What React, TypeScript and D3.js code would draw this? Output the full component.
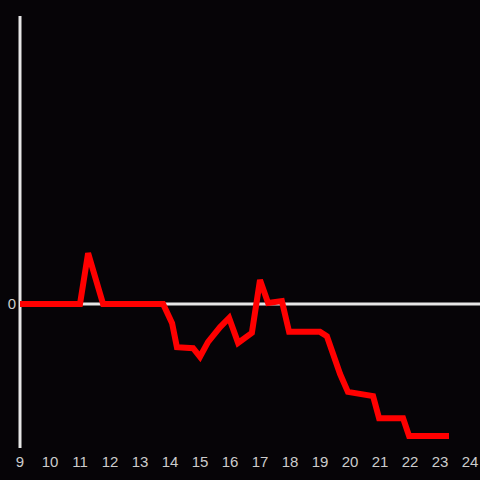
import React from "react";
import * as d3 from "d3";

const hours = [9.0, 11.0, 11.27, 11.77, 13.77, 14.07, 14.23, 14.77, 15.0, 15.27, 15.67, 15.97, 16.27, 16.73, 17.0, 17.27, 17.73, 17.97, 19.0, 19.23, 19.67, 19.93, 20.77, 20.97, 21.77, 21.97, 23.3];
const values = [0, 0, 10.6, 0, 0, -4.0, -9.0, -9.2, -11.0, -7.9, -4.8, -2.9, -8.1, -6.0, 5.0, 0.2, 0.6, -5.8, -5.8, -6.7, -14.6, -18.3, -19.2, -23.8, -23.8, -27.5, -27.5];
const xTicks = d3.range(9, 25);
const yTicks = [0];

export default function App() {
  const W = 480, H = 480;
  const x = d3.scaleLinear().domain([9, 24]).range([20, 470]);
  const y = d3.scaleLinear().domain([-30, 60]).range([448, 16]);
  const data = hours.map((h, i) => ({ h, v: values[i] }));
  const line = d3.line<{ h: number; v: number }>().x(d => x(d.h)).y(d => y(d.v));
  const font = "'Liberation Sans', Arial, sans-serif";
  return (
    <div style={{ position: "fixed", left: 0, top: 0, width: W, height: H }}>
      <svg width={W} height={H} style={{ display: "block" }}>
        <rect width={W} height={H} fill="#060407" />
        <line x1={x(9)} x2={x(9)} y1={y(60)} y2={y(-30)} stroke="#e6e6e6" strokeWidth={3} />
        <line x1={x(9)} x2={W} y1={y(0)} y2={y(0)} stroke="#e6e6e6" strokeWidth={3} />
        {yTicks.map(t => (
          <text key={t} x={16} y={y(t)} dy="0.35em" textAnchor="end" fill="#cccccc" fontSize={15} fontFamily={font}>{t}</text>
        ))}
        {xTicks.map(t => (
          <text key={t} x={x(t)} y={467} textAnchor="middle" fill="#cccccc" fontSize={15} fontFamily={font}>{t}</text>
        ))}
        <path d={line(data) || ""} fill="none" stroke="#ff0000" strokeWidth={6} strokeLinejoin="miter" />
      </svg>
    </div>
  );
}
